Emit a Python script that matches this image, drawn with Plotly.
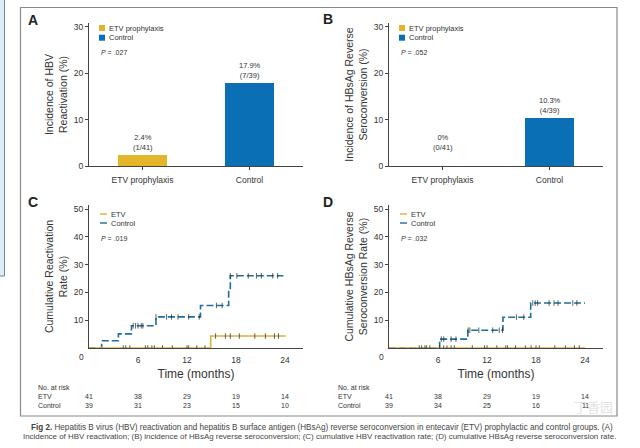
import plotly.graph_objects as go

W, H = 640, 448

groups = ['ETV prophylaxis', 'Control']
colors = ['#e3b52b', '#0a6fb5']
line_colors = ['#dcb13c', '#1c6f9e']

a_values = [2.4, 17.9]
a_labels = ['2.4%<br>(1/41)', '17.9%<br>(7/39)']
b_values = [0, 10.3]
b_labels = ['0%<br>(0/41)', '10.3%<br>(4/39)']

c_ctrl_t = [0, 1.55, 3.6, 5.2, 8.2, 13.65, 17.1, 17.3, 23.8]
c_ctrl_v = [0, 2.6, 5.1, 8.0, 11.2, 15.3, 21.0, 26.0, 26.0]
c_ctrl_censor = [5.4, 5.7, 6.0, 6.4, 6.6, 8.2, 9.5, 10.1, 10.9, 12.2, 13.5, 15.6, 16.3,
                 17.3, 18.1, 19.5, 20.5, 21.1, 22.5, 23.1]
c_etv_t = [0, 14.9, 24.1]
c_etv_v = [0, 4.3, 4.3]
c_etv_censor = [4.2, 4.5, 5.0, 6.9, 7.2, 7.7, 8.0, 9.0, 10.2, 12.0, 12.2, 13.2, 14.2,
                15.5, 16.7, 17.3, 18.4, 20.3, 21.6, 22.7, 23.2]

d_ctrl_t = [0, 6.2, 9.65, 13.95, 17.35, 24.0]
d_ctrl_v = [0, 3.2, 6.4, 11.1, 16.2, 16.2]
d_ctrl_censor = [6.4, 6.7, 7.6, 8.2, 9.7, 9.9, 11.0, 12.7, 13.5, 13.9, 15.6, 16.5,
                 17.6, 17.9, 18.2, 19.6, 20.2, 20.7, 22.5, 23.0]
d_etv_t = [0, 24.0]
d_etv_v = [0, 0]
d_etv_censor = [3.7, 4.0, 4.4, 4.6, 5.0, 6.2, 6.7, 7.1, 7.6, 8.0, 10.2, 11.7, 12.0, 13.2,
                14.3, 14.5, 15.5, 16.7, 17.4, 18.0, 18.4, 20.3, 21.6, 22.7, 23.3]

risk_ticks = [0, 6, 12, 18, 24]
c_risk_etv = [41, 38, 29, 19, 14]
c_risk_ctrl = [39, 31, 23, 15, 10]
d_risk_etv = [41, 38, 29, 19, 14]
d_risk_ctrl = [39, 34, 25, 16, 11]

caption_1 = ('<b>Fig 2.</b> Hepatitis B virus (HBV) reactivation and hepatitis B surface antigen (HBsAg) '
             'reverse seroconversion in entecavir (ETV) prophylactic and control groups. (A)')
caption_2 = ('Incidence of HBV reactivation; (B) incidence of HBsAg reverse seroconversion; '
             '(C) cumulative HBV reactivation rate; (D) cumulative HBsAg reverse seroconversion rate.')

FONT = 'Liberation Sans'
DARK = '#333333'


def px(x):
    return x / W


def py(y):
    return 1 - y / H


def value_at(t, times, values):
    v = values[0]
    for ti, vi in zip(times, values):
        if ti <= t:
            v = vi
    return v


def note(text, x, y, size=8, anchor='left', xref='paper', yref='paper', **kw):
    fig.add_annotation(text=text, x=x, y=y, xref=xref, yref=yref, showarrow=False,
                       xanchor=anchor, yanchor=kw.pop('yanchor', 'middle'),
                       font=dict(family=FONT, size=size, color=kw.pop('color', DARK)),
                       align=kw.pop('align', 'center'), **kw)


fig = go.Figure()

# bar panels
for n, (vals, labels) in enumerate([(a_values, a_labels), (b_values, b_labels)]):
    ax = '' if n == 0 else '2'
    fig.add_trace(go.Bar(x=groups, y=vals, width=0.45, marker=dict(color=colors, line_width=0),
                         xaxis='x' + ax, yaxis='y' + ax, showlegend=False))
    for g, v, lab in zip(groups, vals, labels):
        note(lab, g, v, size=7.5, anchor='center', xref='x' + ax, yref='y' + ax,
             yanchor='bottom', yshift=12 if v == 0 else 1)

# survival panels
panels = [('3', c_etv_t, c_etv_v, c_etv_censor, c_ctrl_t, c_ctrl_v, c_ctrl_censor),
          ('4', d_etv_t, d_etv_v, d_etv_censor, d_ctrl_t, d_ctrl_v, d_ctrl_censor)]
for ax, et, ev, ec, ct, cv, cc in panels:
    fig.add_trace(go.Scatter(x=ct, y=cv, mode='lines', xaxis='x' + ax, yaxis='y' + ax, showlegend=False,
                             line=dict(color=line_colors[1], width=1.6, shape='hv', dash='7px,3px')))
    fig.add_trace(go.Scatter(x=et, y=ev, mode='lines', xaxis='x' + ax, yaxis='y' + ax, showlegend=False,
                             line=dict(color=line_colors[0], width=1.6, shape='hv')))
    for cens, times, vals in [(ec, et, ev), (cc, ct, cv)]:
        fig.add_trace(go.Scatter(x=cens, y=[value_at(t, times, vals) for t in cens], mode='markers',
                                 xaxis='x' + ax, yaxis='y' + ax, showlegend=False,
                                 marker=dict(symbol='line-ns', size=4, line=dict(width=0.7, color='#222222'))))

# automargin comes on with the default template and would shrink the paper area
axis_common = dict(automargin=False, showgrid=False, zeroline=False, showline=True, linecolor='#444444',
                   linewidth=1, ticks='outside', tickcolor='#444444', ticklen=3, tickwidth=1,
                   tickfont=dict(family=FONT, size=8.5, color=DARK))


def bar_x(left):
    return dict(axis_common, domain=[px(left), px(left + 214)], range=[-0.5, 1.5], type='category',
                ticklabelstandoff=3)


def bar_y(anchor, title):
    return dict(axis_common, domain=[py(166), py(23)], range=[0, 30.8], anchor=anchor,
                tickvals=[0, 10, 20, 30], title=dict(text=title, standoff=4,
                font=dict(family=FONT, size=10.5, color=DARK)))


def km_x(left, anchor):
    return dict(axis_common, domain=[px(left), px(left + 214)], range=[0, 26.2], anchor=anchor,
                tickvals=risk_ticks[1:], ticklen=4, tickcolor='rgba(0,0,0,0)',
                title=dict(text='Time (months)', standoff=5, font=dict(family=FONT, size=12, color=DARK)))


def km_y(anchor, title):
    return dict(axis_common, domain=[py(348), py(205)], range=[0, 51.5], anchor=anchor,
                tickvals=[10, 20, 30, 40, 50], title=dict(text=title, standoff=4,
                font=dict(family=FONT, size=10.5, color=DARK)))


fig.update_layout(
    width=W, height=H, margin=dict(l=0, r=0, t=0, b=0, autoexpand=False), paper_bgcolor='white',
    plot_bgcolor='white', showlegend=False, bargap=0,
    xaxis=dict(bar_x(89), anchor='y'), yaxis=bar_y('x', 'Incidence of HBV<br>Reactivation (%)'),
    xaxis2=dict(bar_x(389), anchor='y2'), yaxis2=bar_y('x2', 'Incidence of HBsAg Reverse<br>Seroconversion (%)'),
    xaxis3=km_x(89, 'y3'), yaxis3=km_y('x3', 'Cumulative Reactivation<br>Rate (%)'),
    xaxis4=km_x(389, 'y4'), yaxis4=km_y('x4', 'Cumulative HBsAg Reverse<br>Seroconversion Rate (%)'),
)

# frame and the sidebar of the page
fig.add_shape(type='rect', xref='paper', yref='paper', x0=px(20.5), x1=px(617), y0=py(416), y1=py(7.5),
              line=dict(color='#8a8a8a', width=1.2), fillcolor='rgba(0,0,0,0)', layer='below')
fig.add_shape(type='rect', xref='paper', yref='paper', x0=px(-4), x1=px(4.5), y0=py(276), y1=py(-4),
              line=dict(color='#6f8796', width=1), fillcolor='#dcedf6', layer='below')

# hand legends, the swatches are smaller than a plotly legend allows
for left, p_text, top in [(99, '<i>P</i> = .027', 28), (399, '<i>P</i> = .052', 28)]:
    for i, g in enumerate(groups):
        y = top + i * 9.7
        fig.add_shape(type='rect', xref='paper', yref='paper', x0=px(left), x1=px(left + 6),
                      y0=py(y + 3), y1=py(y - 3), fillcolor=colors[i], line_width=0)
        note(g, px(left + 8), py(y), size=7.5)
    note(p_text, px(left), py(top + 24), size=7)

for left, p_text in [(100, '<i>P</i> = .019'), (400, '<i>P</i> = .032')]:
    for i, g in enumerate(['ETV', 'Control']):
        y = 214 + i * 9
        fig.add_shape(type='line', xref='paper', yref='paper', x0=px(left), x1=px(left + 7),
                      y0=py(y), y1=py(y), line=dict(color=line_colors[i], width=1.4))
        note(g, px(left + 9), py(y), size=7.5)
    note(p_text, px(left - 1), py(238), size=7)

for text, x, y in [('A', 33, 20), ('B', 328, 19), ('C', 33, 202), ('D', 328, 202)]:
    note('<b>%s</b>' % text, px(x), py(y), size=14, anchor='center', color='#222222')

# "0" sits left of the origin in the survival panels
for left in [81, 381]:
    note('0', px(left), py(357), size=8.5, anchor='center')

# numbers at risk
for ax, left, r_etv, r_ctrl in [('3', 36, c_risk_etv, c_risk_ctrl), ('4', 336, d_risk_etv, d_risk_ctrl)]:
    note('No. at risk', px(left), py(387.5), size=7)
    note('ETV', px(left), py(396.5), size=7)
    note('Control', px(left), py(405.5), size=7)
    for t, a, b in zip(risk_ticks, r_etv, r_ctrl):
        note(str(a), t, py(396.5), size=7, anchor='center', xref='x' + ax)
        note(str(b), t, py(405.5), size=7, anchor='center', xref='x' + ax)

note(caption_1, px(29), py(427), size=8.15, color='#444444')
note(caption_2, px(21), py(436), size=7.95, color='#444444')

fig.add_annotation(text='丁香园', x=px(615), y=py(418), xref='paper', yref='paper', showarrow=False,
                   font=dict(family='Noto Sans CJK SC', size=13, color='#e2e2e2'))

# the browser's default body margin would push the page 8px in
fig.write_html("out.html", config=dict(displayModeBar=False),
               post_script="document.body.style.margin = '0';")
